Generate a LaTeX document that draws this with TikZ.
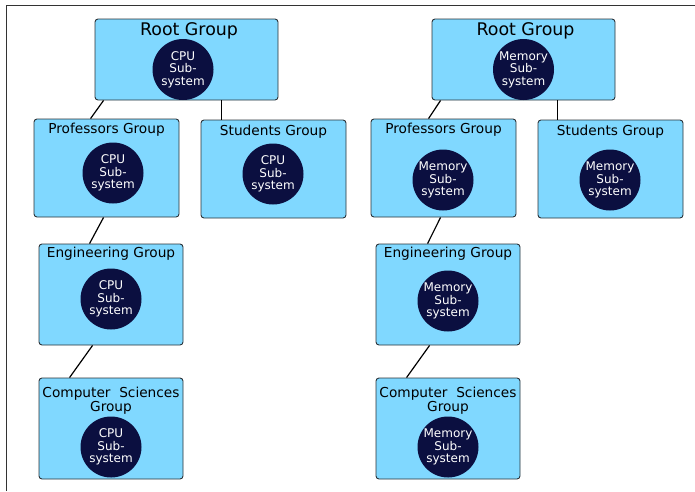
\documentclass[tikz,border=0pt]{standalone}
\usepackage{fontspec}
\setmainfont{DejaVu Sans}
\usetikzlibrary{calc}
\definecolor{boxfill}{HTML}{80D8FF}
\definecolor{boxline}{HTML}{2A3238}
\definecolor{subsys}{HTML}{0B0F40}
\tikzset{
  group/.style={draw=boxline, fill=boxfill, line width=0.9pt, rounded corners=3pt, inner sep=0pt},
  gtitle/.style={font=\fontsize{13.7}{14}\selectfont, text=black, inner sep=0pt, align=center},
  rtitle/.style={font=\fontsize{17.4}{18}\selectfont, text=black, inner sep=0pt},
  subsystem/.style={circle, fill=subsys, minimum size=61pt, inner sep=0pt, text=white, align=center,
    font=\fontsize{12}{12.5}\selectfont},
  link/.style={draw=black, line width=1.2pt},
}
\begin{document}
\begin{tikzpicture}[x=1pt, y=-1pt]
\useasboundingbox (0,0) rectangle (695,491);
% outer frame (left and top edges)
\draw[line width=1pt, draw=black!80] (6.5,491) -- (6.5,5.5) -- (695,5.5);

% ---------- CPU hierarchy ----------
\node[group, minimum width=183pt, minimum height=81pt] (rootL) at (186.5,59.5) {};
\node[rtitle] (rootLt) at (189,31) {Root Group};
\node[subsystem] (rootLc) at (183,69.5) {CPU\\Sub-\\system};

\node[group, minimum width=145pt, minimum height=98pt] (profL) at (106.5,168) {};
\node[gtitle] (profLt) at (106.5,129.5) {Professors Group};
\node[subsystem] (profLc) at (113,173) {CPU\\Sub-\\system};

\node[group, minimum width=145pt, minimum height=98pt] (studL) at (273.5,169) {};
\node[gtitle] (studLt) at (273.5,132) {Students Group};
\node[subsystem] (studLc) at (273,174) {CPU\\Sub-\\system};

\node[group, minimum width=144pt, minimum height=101pt] (engL) at (111,294.5) {};
\node[gtitle] (engLt) at (111,253.5) {Engineering Group};
\node[subsystem] (engLc) at (111,299) {CPU\\Sub-\\system};

\node[group, minimum width=144pt, minimum height=101pt] (csL) at (111,428.5) {};
\node[gtitle] (csLt) at (111,401) {Computer\ \ Sciences\\Group};
\node[subsystem] (csLc) at (111,447) {CPU\\Sub-\\system};

\draw[link] ($(rootL.south west)+(9,0)$) -- ($(profL.north west)+(57,0)$);
\draw[link] ($(rootL.south west)+(127,0)$) -- ($(studL.north west)+(21,0)$);
\draw[link] ($(profL.south west)+(70,0)$) -- ($(engL.north west)+(51,0)$);
\draw[link] ($(engL.south west)+(54,0)$) -- ($(csL.north west)+(31,0)$);

% ---------- Memory hierarchy ----------
\node[group, minimum width=183pt, minimum height=81pt] (rootR) at (523.5,59.5) {};
\node[rtitle] (rootRt) at (525.5,31) {Root Group};
\node[subsystem] (rootRc) at (523.5,69.5) {Memory\\Sub-\\system};

\node[group, minimum width=145pt, minimum height=98pt] (profR) at (443.5,168) {};
\node[gtitle] (profRt) at (443.5,129.5) {Professors Group};
\node[subsystem] (profRc) at (443,180) {Memory\\Sub-\\system};

\node[group, minimum width=145pt, minimum height=98pt] (studR) at (610.5,169) {};
\node[gtitle] (studRt) at (610.5,132) {Students Group};
\node[subsystem] (studRc) at (610,180) {Memory\\Sub-\\system};

\node[group, minimum width=144pt, minimum height=101pt] (engR) at (448,294.5) {};
\node[gtitle] (engRt) at (448,253.5) {Engineering Group};
\node[subsystem] (engRc) at (448,301) {Memory\\Sub-\\system};

\node[group, minimum width=144pt, minimum height=101pt] (csR) at (448,428.5) {};
\node[gtitle] (csRt) at (448,401) {Computer\ \ Sciences\\Group};
\node[subsystem] (csRc) at (448,447) {Memory\\Sub-\\system};

\draw[link] ($(rootR.south west)+(9,0)$) -- ($(profR.north west)+(58,0)$);
\draw[link] ($(rootR.south west)+(126,0)$) -- ($(studR.north west)+(20,0)$);
\draw[link] ($(profR.south west)+(70,0)$) -- ($(engR.north west)+(52,0)$);
\draw[link] ($(engR.south west)+(54,0)$) -- ($(csR.north west)+(31,0)$);
\end{tikzpicture}
\end{document}
